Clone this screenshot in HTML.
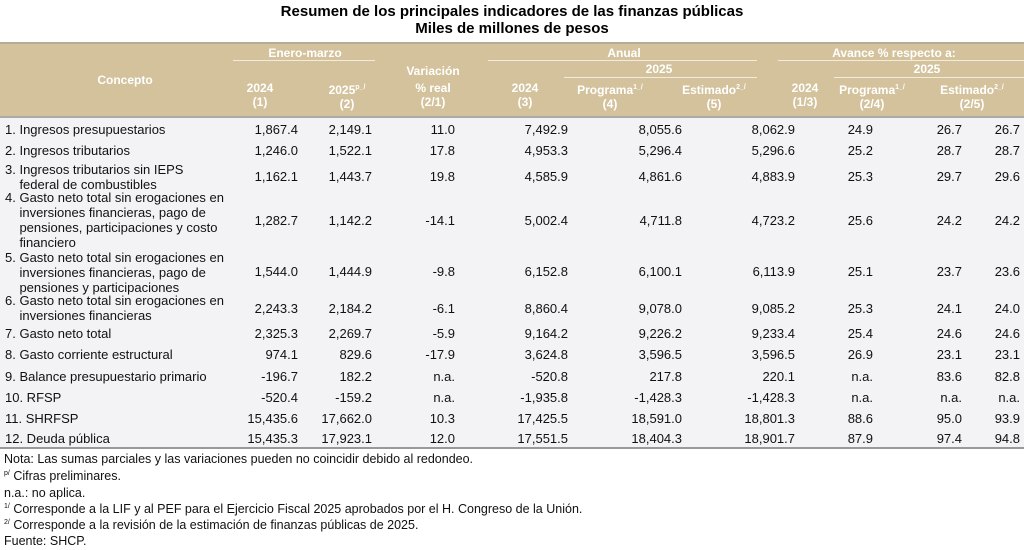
<!DOCTYPE html>
<html><head><meta charset="utf-8"><style>
*{margin:0;padding:0;box-sizing:border-box}
body{width:1024px;height:550px;background:#fff;position:relative;font-family:"Liberation Sans",sans-serif;overflow:hidden;color:#111}
.a{position:absolute;white-space:nowrap}
.t{font-size:15px;font-weight:bold;left:0;width:1024px;text-align:center;color:#000}
.h{color:#fff;font-size:12px;font-weight:bold;text-align:center;line-height:14px}
.ln{position:absolute;height:1px;background:#f3ecdc}
.c{font-size:13px;line-height:15px}
.n{font-size:13px;text-align:right}
.f{font-size:12.5px;left:4px}
sup{font-size:7px;vertical-align:5px}
</style></head><body>
<div class="a t" style="top:3px">Resumen de los principales indicadores de las finanzas públicas</div>
<div class="a t" style="top:20px">Miles de millones de pesos</div>
<div class="a" style="top:42px;left:0;width:1024px;height:2px;background:#b8aa9a"></div>
<div class="a" style="top:44px;left:0;width:1024px;height:73px;background:#d4c29c"></div>
<div class="a" style="top:117px;left:0;width:1024px;height:331px;background:#f3f3f5"></div>
<div class="a" style="top:116px;left:0;width:1024px;height:2px;background:#aaa"></div>
<div class="a" style="top:447px;left:0;width:1024px;height:2px;background:#999"></div>

<div class="a h" style="left:65px;width:120px;top:73px">Concepto</div>
<div class="a h" style="left:245px;width:120px;top:46px">Enero-marzo</div>
<div class="ln" style="left:233px;width:142px;top:60px"></div>
<div class="a h" style="left:383px;width:100px;top:64px">Variación</div>
<div class="a h" style="left:383px;width:100px;top:81px">% real</div>
<div class="a h" style="left:383px;width:100px;top:95px">(2/1)</div>
<div class="a h" style="left:574px;width:100px;top:46px">Anual</div>
<div class="ln" style="left:488px;width:269px;top:60px"></div>
<div class="a h" style="left:609px;width:100px;top:62px">2025</div>
<div class="ln" style="left:564px;width:193px;top:77px"></div>
<div class="a h" style="left:824px;width:140px;top:46px">Avance % respecto a:</div>
<div class="ln" style="left:778px;width:246px;top:60px"></div>
<div class="a h" style="left:877px;width:100px;top:62px">2025</div>
<div class="ln" style="left:834px;width:190px;top:77px"></div>

<div class="a h" style="left:230px;width:60px;top:81px">2024<br>(1)</div>
<div class="a h" style="left:317px;width:60px;top:81px">2025<sup>p_/</sup><br>(2)</div>
<div class="a h" style="left:495px;width:60px;top:81px">2024<br>(3)</div>
<div class="a h" style="left:560px;width:100px;top:81px">Programa<sup>1_/</sup><br>(4)</div>
<div class="a h" style="left:664px;width:100px;top:81px">Estimado<sup>2_/</sup><br>(5)</div>
<div class="a h" style="left:775px;width:60px;top:81px">2024<br>(1/3)</div>
<div class="a h" style="left:822px;width:100px;top:81px">Programa<sup>1_/</sup><br>(2/4)</div>
<div class="a h" style="left:922px;width:100px;top:81px">Estimado<sup>2_/</sup><br>(2/5)</div>

<div id="rows"></div>
<script>
var R=[
[122,122,"1. Ingresos presupuestarios",["1,867.4","2,149.1","11.0","7,492.9","8,055.6","8,062.9","24.9","26.7","26.7"]],
[143,143,"2. Ingresos tributarios",["1,246.0","1,522.1","17.8","4,953.3","5,296.4","5,296.6","25.2","28.7","28.7"]],
[162,169,"3. Ingresos tributarios sin IEPS<br>&nbsp;&nbsp;&nbsp;&nbsp;federal de combustibles",["1,162.1","1,443.7","19.8","4,585.9","4,861.6","4,883.9","25.3","29.7","29.6"]],
[190,213,"4. Gasto neto total sin erogaciones en<br>&nbsp;&nbsp;&nbsp;&nbsp;inversiones financieras, pago de<br>&nbsp;&nbsp;&nbsp;&nbsp;pensiones, participaciones y costo<br>&nbsp;&nbsp;&nbsp;&nbsp;financiero",["1,282.7","1,142.2","-14.1","5,002.4","4,711.8","4,723.2","25.6","24.2","24.2"]],
[250,264,"5. Gasto neto total sin erogaciones en<br>&nbsp;&nbsp;&nbsp;&nbsp;inversiones financieras, pago de<br>&nbsp;&nbsp;&nbsp;&nbsp;pensiones y participaciones",["1,544.0","1,444.9","-9.8","6,152.8","6,100.1","6,113.9","25.1","23.7","23.6"]],
[293,301,"6. Gasto neto total sin erogaciones en<br>&nbsp;&nbsp;&nbsp;&nbsp;inversiones financieras",["2,243.3","2,184.2","-6.1","8,860.4","9,078.0","9,085.2","25.3","24.1","24.0"]],
[326,326,"7. Gasto neto total",["2,325.3","2,269.7","-5.9","9,164.2","9,226.2","9,233.4","25.4","24.6","24.6"]],
[347,347,"8. Gasto corriente estructural",["974.1","829.6","-17.9","3,624.8","3,596.5","3,596.5","26.9","23.1","23.1"]],
[369,369,"9. Balance presupuestario primario",["-196.7","182.2","n.a.","-520.8","217.8","220.1","n.a.","83.6","82.8"]],
[390,390,"10. RFSP",["-520.4","-159.2","n.a.","-1,935.8","-1,428.3","-1,428.3","n.a.","n.a.","n.a."]],
[411,411,"11. SHRFSP",["15,435.6","17,662.0","10.3","17,425.5","18,591.0","18,801.3","88.6","95.0","93.9"]],
[431,431,"12. Deuda pública",["15,435.3","17,923.1","12.0","17,551.5","18,404.3","18,901.7","87.9","97.4","94.8"]]];
var X=[298,372,455,568,682,795,873,962,1020];
var h="";
R.forEach(function(r){
h+='<div class="a c" style="left:5px;top:'+r[0]+'px">'+r[2]+'</div>';
r[3].forEach(function(v,i){h+='<div class="a n" style="right:'+(1024-X[i])+'px;top:'+r[1]+'px">'+v+'</div>';});
});
document.getElementById("rows").innerHTML=h;
</script>
<div class="a f" style="top:452px">Nota: Las sumas parciales y las variaciones pueden no coincidir debido al redondeo.</div>
<div class="a f" style="top:469px"><sup>p/</sup> Cifras preliminares.</div>
<div class="a f" style="top:486px">n.a.: no aplica.</div>
<div class="a f" style="top:502px"><sup>1/</sup> Corresponde a la LIF y al PEF para el Ejercicio Fiscal 2025 aprobados por el H. Congreso de la Unión.</div>
<div class="a f" style="top:518px"><sup>2/</sup> Corresponde a la revisión de la estimación de finanzas públicas de 2025.</div>
<div class="a f" style="top:534px">Fuente: SHCP.</div>
</body></html>
